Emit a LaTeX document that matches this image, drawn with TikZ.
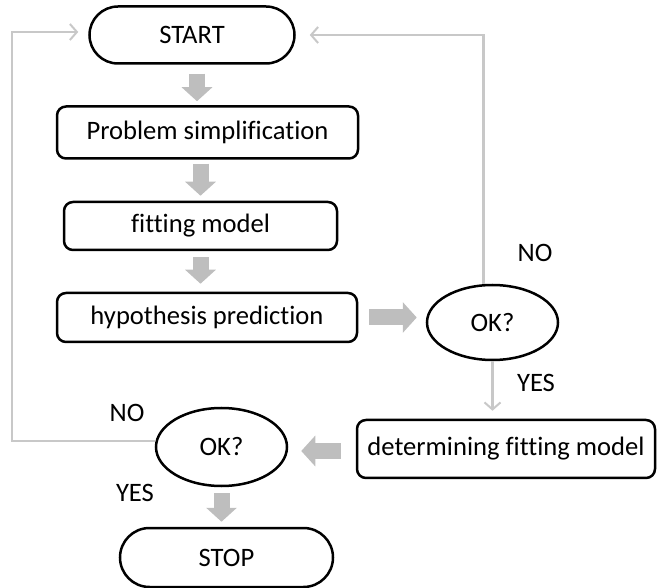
\documentclass[tikz,border=0pt]{standalone}
\usepackage{fontspec}
\setmainfont{Carlito}[Ligatures=CommonOff]
\usetikzlibrary{shapes.misc,shapes.geometric,arrows.meta,calc}
\definecolor{arrgray}{RGB}{190,190,190}
\definecolor{linegray}{RGB}{200,200,200}
\begin{document}
\begin{tikzpicture}[x=1pt,y=-1pt,
  every node/.style={font=\fontsize{26.6}{30}\selectfont, inner sep=0pt},
  stadium/.style={rounded rectangle, draw=black, line width=2.5pt},
  stepbox/.style={rectangle, rounded corners=9pt, draw=black, line width=2.5pt},
  decision/.style={ellipse, draw=black, line width=2.5pt},
  fat/.style={draw=arrgray, line width=16pt, -{Triangle[width=30pt,length=14pt]}},
  thinline/.style={draw=linegray, line width=2.2pt, -{Straight Barb[length=7pt,width=16pt,line width=2pt]}},
  lbl/.style={}
]
\useasboundingbox (0,0) rectangle (657,588);
\node[stadium, minimum width=205pt, minimum height=57pt] (start) at (192,35) {START};
\node[stepbox, minimum width=301pt, minimum height=52pt] (b1) at (207.5,132.5) {Problem simplification};
\node[stepbox, minimum width=273pt, minimum height=48pt] (b2) at (200.5,226) {fitting model};
\node[stepbox, minimum width=300pt, minimum height=49pt] (b3) at (207,317.5) {hypothesis prediction};
\node[decision, minimum width=131pt, minimum height=75pt] (ok1) at (492.5,322.5) {OK?};
\node[stepbox, minimum width=298pt, minimum height=58pt] (b4) at (506,449) {determining fitting model};
\node[decision, minimum width=131pt, minimum height=78pt] (ok2) at (221.5,447) {OK?};
\node[stadium, minimum width=213pt, minimum height=59pt] (stop) at (226.5,557.5) {STOP};

\node[lbl] (no1) at (535,253) {NO};
\node[lbl] (yes1) at (536,383) {YES};
\node[lbl] (no2) at (127,413) {NO};
\node[lbl] (yes2) at (135,493) {YES};

\coordinate (lc) at (12,441);

% fat arrows
\draw[fat, shorten <=9pt, shorten >=4pt] ([xshift=5pt]start.south) -- ([xshift=5pt]start.south |- b1.north);
\draw[fat, shorten <=4pt, shorten >=5pt] (b1.south -| b2.north) -- (b2.north);
\draw[fat, shorten <=6pt, shorten >=8pt] (b2.south) -- (b2.south |- b3.north);
\draw[fat, shorten <=11pt, shorten >=9pt] (b3.east) -- (b3.east -| ok1.west);
\draw[fat, shorten <=15pt, shorten >=13pt] ([yshift=-2pt]b4.west) -- ([yshift=-2pt]b4.west -| ok2.east);
\draw[fat, shorten <=6pt, shorten >=5pt] (ok2.south) -- (ok2.south |- stop.north);

% thin loop connectors
\draw[thinline, shorten >=14pt] ([xshift=-9pt]ok1.north) |- (start.east);
\draw[thinline, shorten >=8pt] (ok1.south) -- (ok1.south |- b4.north);
\draw[thinline, shorten >=10pt] ([yshift=6pt]ok2.west) -- (lc) |- ([yshift=3pt]start.west);
\end{tikzpicture}
\end{document}
